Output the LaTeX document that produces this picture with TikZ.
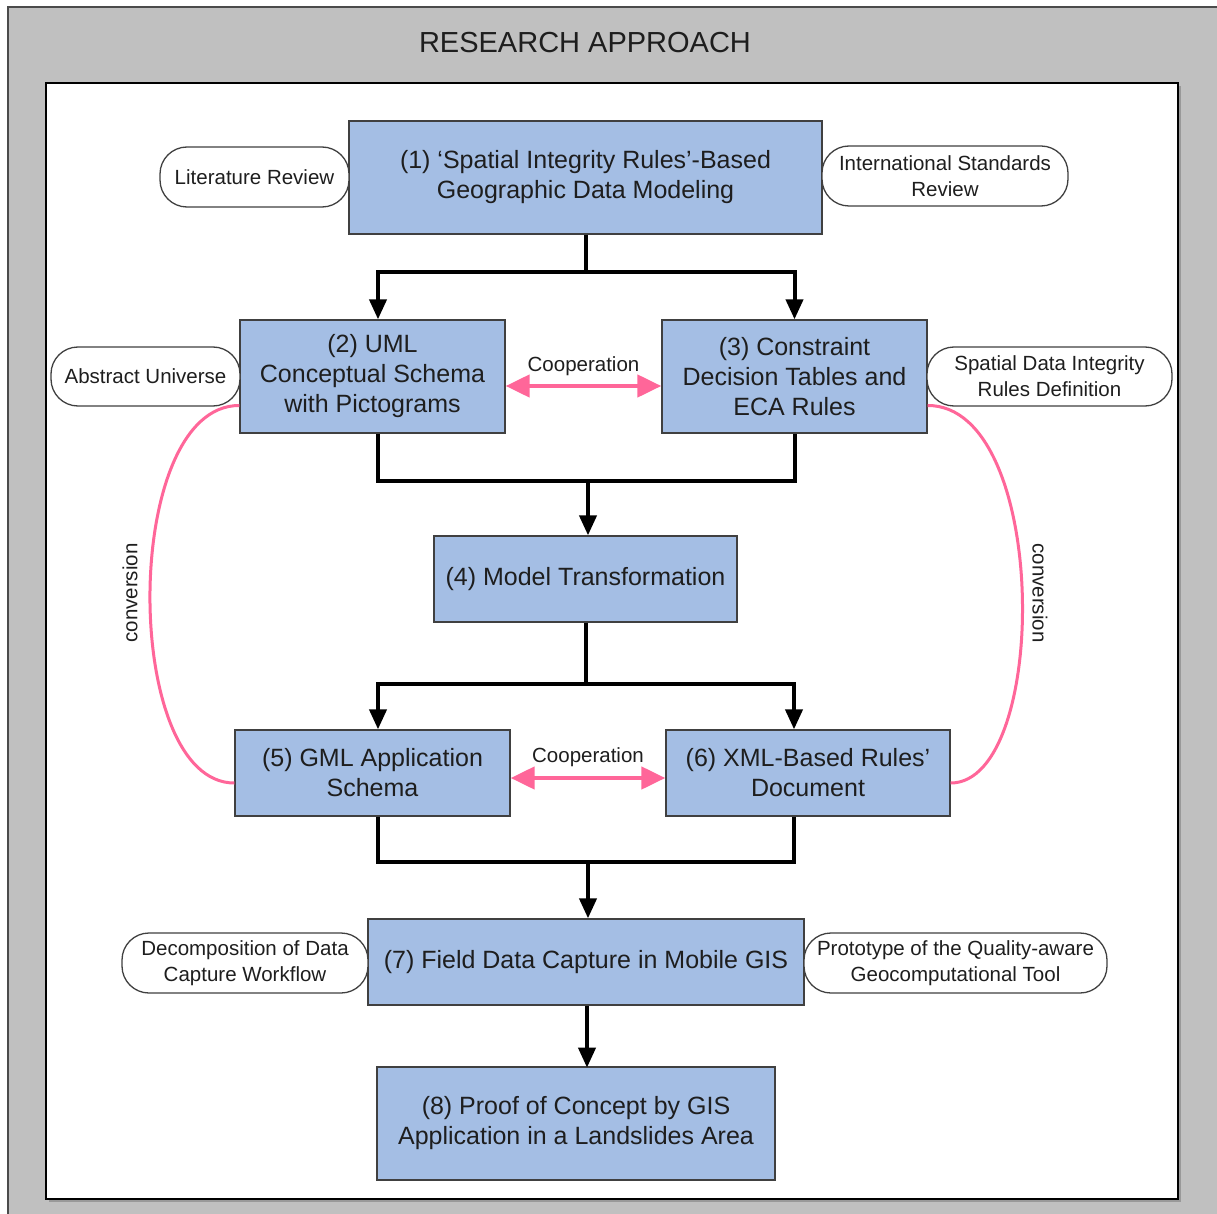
\documentclass[tikz,border=0pt]{standalone}
\usepackage{fontspec}
\setmainfont{Liberation Sans}
\usetikzlibrary{arrows.meta,calc}
\definecolor{boxblue}{RGB}{164,190,228}
\definecolor{panel}{RGB}{192,192,192}
\definecolor{coop}{RGB}{255,102,153}
\definecolor{ink}{RGB}{30,30,30}

\begin{document}
\begin{tikzpicture}[x=1pt,y=-1pt,
  stepbox/.style={draw=ink!85, line width=1.3pt, fill=boxblue, inner sep=0pt,
    align=center, text=ink, font=\fontsize{25}{30}\selectfont},
  source/.style={draw=ink!85, line width=1.3pt, fill=white, rounded corners=27pt,
    inner sep=0pt, align=center, text=ink, font=\fontsize{20.5}{26}\selectfont},
  flow/.style={line width=4pt, draw=black},
  flowarrow/.style={flow, -{Triangle[length=20pt,width=17pt]}},
  link/.style={line width=4.5pt, draw=coop,
    {Triangle[length=24pt,width=22pt]}-{Triangle[length=24pt,width=22pt]}},
  conv/.style={line width=3pt, draw=coop},
  tag/.style={text=ink, font=\fontsize{20.5}{26}\selectfont, inner sep=0pt}
]
\useasboundingbox (0,0) rectangle (1217,1214);
\clip (0,0) rectangle (1217,1214);

% outer panel
\fill[panel] (8,7) rectangle (1240,1240);
\draw[line width=1.5pt, draw=ink!80] (1240,7) -- (8,7) -- (8,1240);
\node[text=ink, inner sep=0pt, font=\fontsize{29}{34}\selectfont] (title) at (585,43) {RESEARCH APPROACH};

% inner sheet
\fill[black!40] (49,86) rectangle (1181,1202);
\draw[fill=white, line width=2.5pt, draw=black] (46,83) rectangle (1178,1199);

% process steps
\node[stepbox, minimum width=473pt, minimum height=113pt] (b1) at (585.5,177.5)
  {(1) ‘Spatial Integrity Rules’-Based\\Geographic Data Modeling};
\node[stepbox, minimum width=265pt, minimum height=113pt] (b2) at (372.5,376.5)
  {(2) UML\\Conceptual Schema\\with Pictograms};
\node[stepbox, minimum width=265pt, minimum height=113pt] (b3) at (794.5,376.5)
  {(3) Constraint\\Decision Tables and\\ECA Rules};
\node[stepbox, minimum width=303pt, minimum height=86pt] (b4) at (585.5,579)
  {(4) Model Transformation};
\node[stepbox, minimum width=275pt, minimum height=86pt] (b5) at (372.5,773)
  {(5) GML Application\\Schema};
\node[stepbox, minimum width=284pt, minimum height=86pt] (b6) at (808,773)
  {(6) XML-Based Rules’\\Document};
\node[stepbox, minimum width=436pt, minimum height=86pt] (b7) at (586,962)
  {(7) Field Data Capture in Mobile GIS};
\node[stepbox, minimum width=398pt, minimum height=113pt] (b8) at (576,1123.5)
  {(8) Proof of Concept by GIS\\Application in a Landslides Area};

% sources
\node[source, minimum width=189pt, minimum height=60pt] (s1) at (254.5,177) {Literature Review};
\node[source, minimum width=246pt, minimum height=60pt] (s2) at (945,176) {International Standards\\Review};
\node[source, minimum width=189pt, minimum height=59pt] (s3) at (145.5,376.5) {Abstract Universe};
\node[source, minimum width=245pt, minimum height=59pt] (s4) at (1049.5,376.5) {Spatial Data Integrity\\Rules Definition};
\node[source, minimum width=246pt, minimum height=60pt] (s5) at (245,963) {Decomposition of Data\\Capture Workflow};
\node[source, minimum width=303pt, minimum height=60pt] (s6) at (955.5,963) {Prototype of the Quality-aware\\Geocomputational Tool};

% junctions of the flow lines
\coordinate (j1) at (585.5,272);
\coordinate (j2) at (588,481);
\coordinate (j3) at (585.5,684);
\coordinate (j4) at (588,862);
\coordinate (b2top) at ($(b2.north)+(5.5,0)$);
\coordinate (b2bot) at ($(b2.south)+(5.5,0)$);
\coordinate (b5top) at ($(b5.north)+(5.5,0)$);
\coordinate (b5bot) at ($(b5.south)+(5.5,0)$);
\coordinate (b6top) at ($(b6.north)+(-14,0)$);
\coordinate (b6bot) at ($(b6.south)+(-14,0)$);

% split after step 1
\draw[flow] (b1.south) -- (j1);
\draw[flowarrow] (j1) -| (b2top);
\draw[flowarrow] (j1) -| (b3.north);
% merge into step 4
\draw[flow] (b2bot) |- (j2) -| (b3.south);
\draw[flowarrow] (j2) -- (j2 |- b4.north);
% split after step 4
\draw[flow] (b4.south) -- (j3);
\draw[flowarrow] (j3) -| (b5top);
\draw[flowarrow] (j3) -| (b6top);
% merge into step 7
\draw[flow] (b5bot) |- (j4) -| (b6bot);
\draw[flowarrow] (j4) -- (j4 |- b7.north);
% step 7 to step 8
\draw[flowarrow] ($(b7.south)+(1,0)$) -- ($(b7.south)+(1,62)$) coordinate (b8top);

% cooperation links
\draw[link] ($(b2.east)+(0,9.5)$) -- ($(b3.west)+(0,9.5)$)
  node[midway, above=8pt, tag] (c1) {Cooperation};
\draw[link] ($(b5.east)+(0,5)$) -- ($(b6.west)+(0,5)$)
  node[midway, above=9pt, tag] (c2) {Cooperation};

% conversion curves
\draw[conv] ($(b2.west)+(0,29)$) .. controls (121,405) and (121,783) .. ($(b5.west)+(0,10)$);
\draw[conv] ($(b3.east)+(0,29)$) .. controls (1050,405) and (1050,783) .. ($(b6.east)+(0,10)$);
\node[tag, rotate=90] (cv1) at (130,593) {conversion};
\node[tag, rotate=-90] (cv2) at (1040,593) {conversion};
\end{tikzpicture}
\end{document}
